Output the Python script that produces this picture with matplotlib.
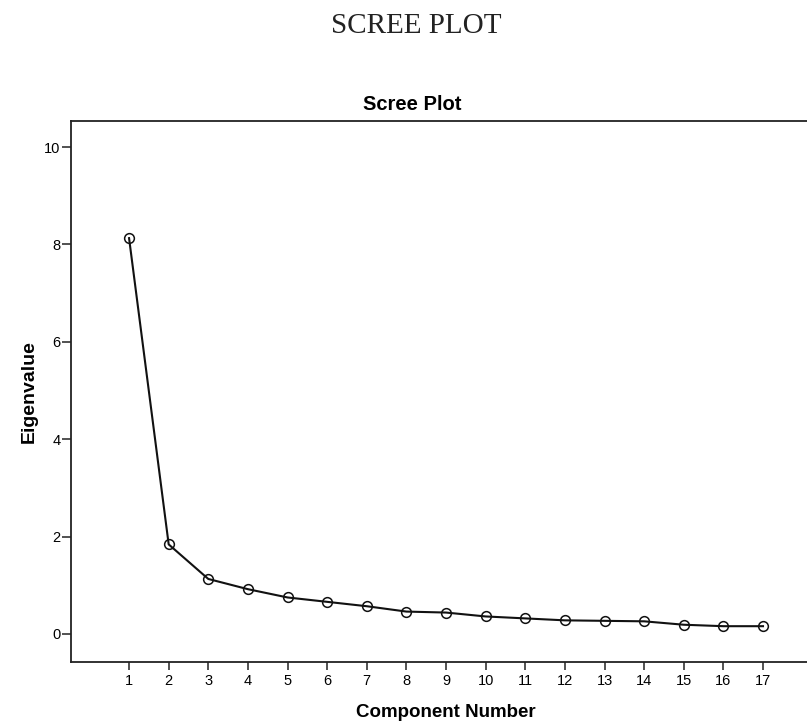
import matplotlib
matplotlib.use('Agg')
import matplotlib.pyplot as plt
import numpy as np

# component numbers and eigenvalues
components = list(range(1, 18))
eigenvalues = [8.13, 1.84, 1.13, 0.92, 0.75, 0.66, 0.57, 0.46, 0.44,
               0.36, 0.32, 0.28, 0.27, 0.26, 0.19, 0.16, 0.16]
yticks = [0, 2, 4, 6, 8, 10]

plt.rcParams['font.family'] = ['Liberation Sans', 'DejaVu Sans']

fig = plt.figure(figsize=(8.07, 7.21), dpi=100)
# axes run past the right edge of the figure (the original is cropped)
ax = fig.add_axes([0.088, 0.0822, 0.9294, 0.7503])

ax.plot(components, eigenvalues, color='#111111', linewidth=1.5,
        marker='o', markersize=7, markerfacecolor='none',
        markeredgecolor='#111111', markeredgewidth=1.1)

ax.set_xlim(-0.465, 18.465)
ax.set_ylim(-0.57, 10.54)
ax.set_xticks(components)
ax.set_yticks(yticks)
ax.tick_params(axis='both', labelsize=10.5, color='#222222', width=1.1)
ax.tick_params(axis='y', length=6.5, pad=1)
ax.tick_params(axis='x', length=6, pad=3)
for s in ax.spines.values():
    s.set_linewidth(1.3)
    s.set_color('#222222')

ax.set_xlabel('Component Number', fontsize=13.5, fontweight='bold', labelpad=11)
ax.set_ylabel('Eigenvalue', fontsize=14, fontweight='bold', labelpad=5)
ax.set_title('Scree Plot', fontsize=14.5, fontweight='bold', x=0.455, pad=8)

fig.text(416.7 / 807, 1 - 32.7 / 721, 'SCREE PLOT', family='Liberation Serif',
         fontsize=21, ha='center', va='baseline', color='#222222')

fig.savefig('out.png', dpi=100)
